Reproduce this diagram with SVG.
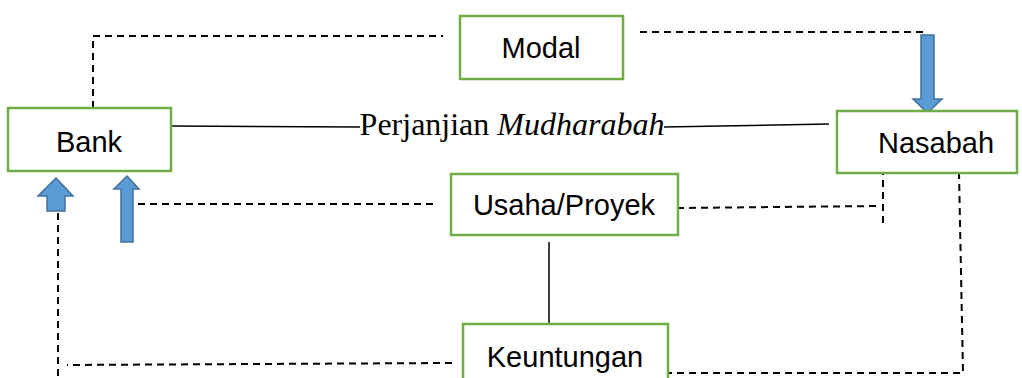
<svg xmlns="http://www.w3.org/2000/svg" width="1022" height="378" viewBox="0 0 1022 378">
<style>
.box{fill:#fff;stroke:#70AD47;stroke-width:2.5}
.lbl{font-family:"Liberation Sans",Arial,sans-serif;font-size:29px;fill:#000;text-anchor:middle}
.dash{fill:none;stroke:#000;stroke-width:2;stroke-dasharray:7 5}
.solid{fill:none;stroke:#000;stroke-width:1.5}
.arrow{fill:#5B9BD5;stroke:#41719C;stroke-width:1.5}
</style>
<g id="connectors">
<polyline class="dash" points="93,120 93,36 443,36"/>
<polyline class="dash" points="640,32 927,32"/>
<line class="solid" x1="171" y1="126" x2="360" y2="127"/>
<line class="solid" x1="664" y1="127" x2="829" y2="124"/>
<line class="dash" x1="138" y1="204" x2="437" y2="204"/>
<polyline class="dash" points="677,208 878,206"/>
<line class="dash" x1="883" y1="168" x2="883" y2="225"/>
<polyline class="dash" points="959,172 963,373 665,373"/>
<line class="solid" x1="549" y1="242" x2="549" y2="324"/>
<polyline class="dash" points="452,363 67,365"/>
<line class="dash" x1="58" y1="213" x2="58" y2="376"/>
<polygon class="arrow" points="921,35 934,35 934,99 942,99 927.5,113 913,99 921,99"/>
<polygon class="arrow" points="56,178 73,196 65,196 65,211 47,211 47,196 38,196"/>
<polygon class="arrow" points="127,176 139,189 133,189 133,242 121,242 121,189 114,189"/>
<text x="512" y="135" font-family="'Liberation Serif','Times New Roman',serif" font-size="32" text-anchor="middle">Perjanjian <tspan font-style="italic">Mudharabah</tspan></text>
</g>
<g id="bank">
<rect class="box" x="8" y="108" width="163" height="63"/>
<text class="lbl" x="89" y="152">Bank</text>
</g>
<g id="modal">
<rect class="box" x="460" y="16" width="163" height="63"/>
<text class="lbl" x="541" y="58">Modal</text>
</g>
<g id="nasabah">
<rect class="box" x="837" y="111" width="180" height="62"/>
<text class="lbl" x="936" y="153">Nasabah</text>
</g>
<g id="usaha">
<rect class="box" x="451" y="174" width="227" height="61"/>
<text class="lbl" x="564" y="215">Usaha/Proyek</text>
</g>
<g id="keuntungan">
<rect class="box" x="463" y="324" width="205" height="70"/>
<text class="lbl" x="565" y="367">Keuntungan</text>
</g>
</svg>
